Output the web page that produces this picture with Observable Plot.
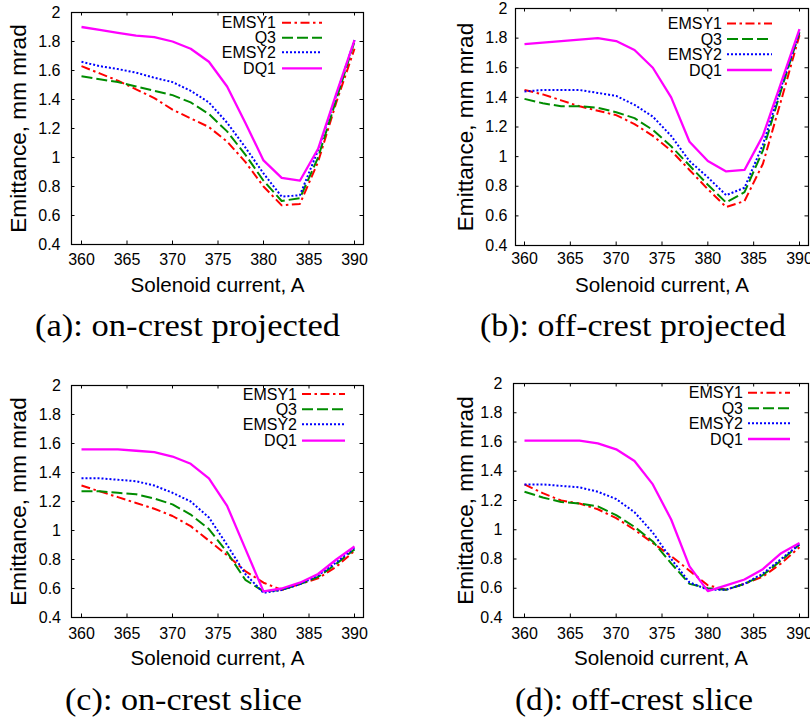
<!DOCTYPE html>
<html>
<head>
<meta charset="utf-8">
<script src="https://cdn.jsdelivr.net/npm/d3@7"></script>
<script src="https://cdn.jsdelivr.net/npm/@observablehq/plot@0.6"></script>
<style>
  html, body { margin: 0; padding: 0; background: #fff; }
  #root { position: relative; width: 810px; height: 724px; overflow: hidden; }
  .panel { position: absolute; }
  #captions { position: absolute; left: 0; top: 0; }
</style>
</head>
<body>
<div id="root"></div>
<script>
// ---- data ----
const current = [360, 362, 364, 366, 368, 370, 372, 374, 376, 378, 380, 382, 384, 386, 388, 390];
const seriesNames = ["EMSY1", "Q3", "EMSY2", "DQ1"];
const xTicks = [360, 365, 370, 375, 380, 385, 390];
const yTicks = [0.4, 0.6, 0.8, 1, 1.2, 1.4, 1.6, 1.8, 2];
const xLabel = "Solenoid current, A";
const yLabel = "Emittance, mm mrad";
const captions = ["(a): on-crest projected", "(b): off-crest projected", "(c): on-crest slice", "(d): off-crest slice"];

// (a) on-crest projected
const aEMSY1 = [1.63, 1.58, 1.53, 1.47, 1.41, 1.33, 1.27, 1.21, 1.11, 0.97, 0.80, 0.67, 0.68, 0.97, 1.38, 1.75];
const aQ3    = [1.56, 1.54, 1.52, 1.49, 1.46, 1.43, 1.38, 1.30, 1.18, 1.02, 0.84, 0.70, 0.72, 1.00, 1.40, 1.80];
const aEMSY2 = [1.66, 1.63, 1.61, 1.585, 1.55, 1.52, 1.46, 1.38, 1.24, 1.07, 0.89, 0.73, 0.74, 1.05, 1.43, 1.81];
const aDQ1   = [1.90, 1.88, 1.86, 1.84, 1.83, 1.80, 1.75, 1.66, 1.49, 1.24, 0.98, 0.86, 0.84, 1.06, 1.44, 1.81];
// (b) off-crest projected
const bEMSY1 = [1.45, 1.42, 1.38, 1.34, 1.31, 1.28, 1.22, 1.14, 1.04, 0.91, 0.78, 0.66, 0.70, 0.95, 1.38, 1.82];
const bQ3    = [1.39, 1.36, 1.34, 1.34, 1.33, 1.30, 1.26, 1.18, 1.07, 0.94, 0.81, 0.69, 0.76, 1.04, 1.45, 1.84];
const bEMSY2 = [1.44, 1.45, 1.45, 1.45, 1.43, 1.41, 1.35, 1.27, 1.14, 0.97, 0.86, 0.74, 0.79, 1.08, 1.47, 1.84];
const bDQ1   = [1.76, 1.77, 1.78, 1.79, 1.80, 1.78, 1.72, 1.60, 1.40, 1.10, 0.97, 0.90, 0.91, 1.14, 1.50, 1.86];
// (c) on-crest slice
const cEMSY1 = [1.31, 1.27, 1.23, 1.19, 1.15, 1.10, 1.03, 0.93, 0.83, 0.72, 0.64, 0.59, 0.63, 0.67, 0.75, 0.86];
const cQ3    = [1.27, 1.27, 1.26, 1.25, 1.22, 1.18, 1.11, 1.01, 0.85, 0.66, 0.58, 0.59, 0.63, 0.68, 0.77, 0.87];
const cEMSY2 = [1.36, 1.36, 1.35, 1.34, 1.31, 1.26, 1.20, 1.09, 0.90, 0.70, 0.57, 0.59, 0.63, 0.69, 0.78, 0.88];
const cDQ1   = [1.56, 1.56, 1.56, 1.55, 1.54, 1.51, 1.46, 1.36, 1.17, 0.875, 0.58, 0.60, 0.64, 0.70, 0.80, 0.89];
// (d) off-crest slice
const dEMSY1 = [1.31, 1.25, 1.20, 1.18, 1.14, 1.08, 1.00, 0.91, 0.82, 0.72, 0.62, 0.59, 0.63, 0.68, 0.77, 0.88];
const dQ3    = [1.26, 1.22, 1.19, 1.18, 1.16, 1.10, 1.02, 0.92, 0.77, 0.63, 0.60, 0.59, 0.63, 0.69, 0.79, 0.90];
const dEMSY2 = [1.31, 1.31, 1.30, 1.29, 1.26, 1.21, 1.12, 0.98, 0.80, 0.64, 0.59, 0.59, 0.63, 0.70, 0.80, 0.90];
const dDQ1   = [1.61, 1.61, 1.61, 1.61, 1.59, 1.55, 1.47, 1.31, 1.07, 0.75, 0.58, 0.62, 0.66, 0.73, 0.84, 0.91];

// ---- styles ----
const seriesStyle = [
  {stroke: "#ff0000", strokeWidth: 2, dash: "9,3.5,2.5,3.5"},
  {stroke: "#008c00", strokeWidth: 2, dash: "11,4"},
  {stroke: "#0000ff", strokeWidth: 2, dash: "2,2"},
  {stroke: "#ff00ff", strokeWidth: 2.3, dash: null}
];

const panels = [
  {values: [aEMSY1, aQ3, aEMSY2, aDQ1], left: 0, top: 0, w: 405, h: 300, ml: 71, mr: 42, mt: 12, mb: 56,
   insL: 10, insR: 9, xPad: 9, yPad: 11, xlabDy: 41, ylabDx: 53,
   legEnd: 276, legS: [282, 322], legY: [22.7, 37.7, 52.3, 68.3]},
  {values: [bEMSY1, bQ3, bEMSY2, bDQ1], left: 405, top: 0, w: 405, h: 300, ml: 110, mr: 2, mt: 8, mb: 55,
   insL: 9, insR: 9, xPad: 7, yPad: 8, xlabDy: 40, ylabDx: 50,
   legEnd: 722, legS: [727, 772], legY: [23.5, 39, 54.3, 70]},
  {values: [cEMSY1, cQ3, cEMSY2, cDQ1], left: 0, top: 370, w: 405, h: 300, ml: 71, mr: 42, mt: 15, mb: 53,
   insL: 10, insR: 9, xPad: 10.5, yPad: 10.5, xlabDy: 41, ylabDx: 53,
   legEnd: 297, legS: [302, 345], legY: [394, 409.3, 424.3, 440.7]},
  {values: [dEMSY1, dQ3, dEMSY2, dDQ1], left: 405, top: 370, w: 405, h: 300, ml: 108, mr: 2, mt: 13, mb: 53,
   insL: 11, insR: 9, xPad: 10.5, yPad: 11, xlabDy: 41, ylabDx: 48,
   legEnd: 743, legS: [748, 790], legY: [392.7, 408.3, 423.3, 439]}
];

const captionPos = [
  {x0: 35, x1: 340, y: 335.5},
  {x0: 480, x1: 786, y: 335.5},
  {x0: 65, x1: 302, y: 709.5},
  {x0: 515, x1: 753, y: 709.5}
];

const root = document.getElementById("root");
const TICK = 3.5;

panels.forEach((p) => {
  const fw = p.w - p.ml - p.mr;
  const fh = p.h - p.mt - p.mb;
  const lineMarks = seriesNames.map((name, i) => {
    const rows = current.map((x, j) => ({x, v: p.values[i][j]}));
    const s = seriesStyle[i];
    return Plot.line(rows, {x: "x", y: "v", stroke: s.stroke, strokeWidth: s.strokeWidth,
      strokeDasharray: s.dash, strokeLinejoin: "round", strokeLinecap: "butt"});
  });
  const svg = Plot.plot({
    width: p.w, height: p.h,
    marginLeft: p.ml, marginRight: p.mr, marginTop: p.mt, marginBottom: p.mb,
    x: {domain: [360, 390], insetLeft: p.insL, insetRight: p.insR},
    y: {domain: [0.4, 2]},
    style: {fontFamily: "'Liberation Sans', Arial, sans-serif", fontSize: "16px", background: "transparent", color: "#000"},
    marks: [
      Plot.axisX({ticks: xTicks, tickSize: 0, tickPadding: p.xPad, tickFormat: d => String(d), label: null}),
      Plot.axisY({ticks: yTicks, tickSize: 0, tickPadding: p.yPad, tickFormat: d => String(d), label: null}),
      Plot.tickX(xTicks, {x: d => d, insetTop: fh - TICK, stroke: "#000"}),
      Plot.tickX(xTicks, {x: d => d, insetBottom: fh - TICK, stroke: "#000"}),
      Plot.tickY(yTicks, {y: d => d, insetRight: fw - TICK, stroke: "#000"}),
      Plot.tickY(yTicks, {y: d => d, insetLeft: fw - TICK, stroke: "#000"}),
      ...lineMarks,
      Plot.frame({stroke: "#000", strokeWidth: 1.2}),
      Plot.text([xLabel], {text: d => d, frameAnchor: "bottom", dy: p.xlabDy, textAnchor: "middle", lineAnchor: "middle", fontSize: 20.6, fill: "#000"}),
      Plot.text([yLabel], {text: d => d, frameAnchor: "left", dx: -p.ylabDx, rotate: -90, textAnchor: "middle", lineAnchor: "middle", fontSize: 22.6, fill: "#000"})
    ]
  });
  // legend (key inside top-right, gnuplot style)
  const g = d3.select(svg).append("g").attr("class", "legend");
  seriesNames.forEach((name, i) => {
    const s = seriesStyle[i];
    const y = p.legY[i] - p.top;
    g.append("text")
      .attr("x", p.legEnd - p.left).attr("y", y).attr("dy", "0.36em")
      .attr("text-anchor", "end").attr("font-size", 16).attr("fill", "#000")
      .text(name);
    g.append("line")
      .attr("x1", p.legS[0] - p.left).attr("x2", p.legS[1] - p.left)
      .attr("y1", y).attr("y2", y)
      .attr("stroke", s.stroke).attr("stroke-width", s.strokeWidth)
      .attr("stroke-dasharray", s.dash);
  });
  const div = document.createElement("div");
  div.className = "panel";
  div.style.left = p.left + "px";
  div.style.top = p.top + "px";
  div.appendChild(svg);
  root.appendChild(div);
});

// captions (LaTeX-style subfigure captions)
const cap = d3.select(root).append("svg").attr("id", "captions")
  .attr("width", 810).attr("height", 724);
captions.forEach((t, i) => {
  const c = captionPos[i];
  cap.append("text")
    .attr("x", c.x0).attr("y", c.y)
    .attr("textLength", c.x1 - c.x0).attr("lengthAdjust", "spacingAndGlyphs")
    .attr("font-family", "'Liberation Serif', 'DejaVu Serif', serif")
    .attr("font-size", 31).attr("fill", "#000")
    .text(t);
});
</script>
</body>
</html>
